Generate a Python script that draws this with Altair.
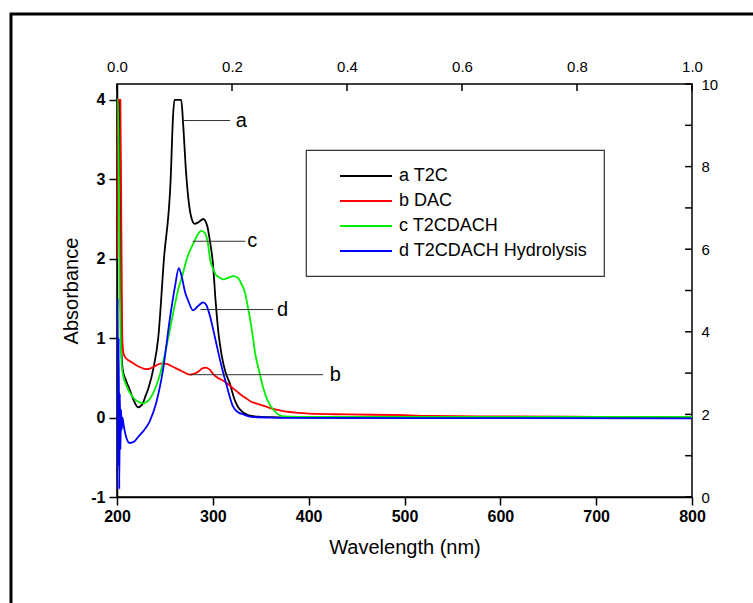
import altair as alt
import pandas as pd

# ---- data ----
series_names = ["a T2C", "b DAC", "c T2CDACH", "d T2CDACH Hydrolysis"]
series_colors = ["#000000", "#ff0000", "#00ee00", "#0000ff"]

wl_a = [200, 201, 202.5, 203.5, 204.5, 206, 209, 213, 218, 222, 226, 230, 233, 238, 243, 249, 256, 258.5, 260,
        264, 267, 269, 272, 275, 278, 281, 285, 290, 294, 297, 300, 303, 306, 309, 313, 318, 322, 326, 330,
        335, 340, 350, 360, 380, 400, 500, 600, 700, 800]
abs_a = [1.5, 4.0, 4.0, 2.0, 0.9, 0.6, 0.48, 0.36, 0.2, 0.13, 0.16, 0.28, 0.38, 0.62, 1.0, 2.0, 3.0, 3.8, 4.0,
         4.0, 4.0, 3.7, 3.1, 2.7, 2.5, 2.44, 2.46, 2.5, 2.42, 2.22, 1.95, 1.45, 1.05, 0.8, 0.58, 0.42, 0.25, 0.14,
         0.08, 0.04, 0.02, 0.01, 0.005, 0.002, 0.0, 0.0, 0.0, 0.0, 0.0]

wl_b = [200, 201, 203.5, 204.5, 205.5, 207, 210, 215, 220, 225, 230, 235, 240, 245, 250, 255, 260, 265, 270,
        276, 280, 285, 289, 293, 297, 301, 305, 310, 315, 320, 325, 330, 335, 340, 345, 350, 360, 370, 380,
        390, 400, 440, 500, 530, 600, 700, 800]
abs_b = [2.0, 4.0, 4.0, 2.5, 1.0, 0.8, 0.74, 0.7, 0.66, 0.63, 0.61, 0.62, 0.65, 0.68, 0.68, 0.66, 0.63, 0.6,
         0.57, 0.54, 0.55, 0.58, 0.62, 0.63, 0.6, 0.54, 0.5, 0.47, 0.43, 0.38, 0.33, 0.28, 0.24, 0.2, 0.18,
         0.16, 0.12, 0.09, 0.07, 0.06, 0.05, 0.04, 0.03, 0.02, 0.015, 0.01, 0.01]

wl_c = [200, 201, 202, 203, 205, 207, 210, 213, 217, 222, 227.5, 234, 241, 245, 250, 255, 260, 264, 268,
        272.7, 276, 280, 284, 288, 292, 295, 297, 300, 303, 307.5, 311, 316, 321, 326, 330, 333.6, 336, 339,
        342, 344, 347, 349, 352, 355, 360, 367, 374, 390, 500, 600, 700, 800]
abs_c = [4.0, 4.0, 3.0, 1.6, 0.65, 0.5, 0.4, 0.32, 0.25, 0.2, 0.18, 0.23, 0.4, 0.55, 0.8, 1.1, 1.4, 1.62,
         1.78, 1.99, 2.1, 2.2, 2.3, 2.35, 2.32, 2.18, 2.0, 1.88, 1.8, 1.76, 1.74, 1.76, 1.78, 1.76, 1.68,
         1.57, 1.43, 1.23, 1.0, 0.82, 0.65, 0.55, 0.4, 0.28, 0.15, 0.05, 0.015, 0.01, 0.01, 0.01, 0.01, 0.01]

wl_d = [200, 200.6, 201.2, 201.8, 202.4, 203, 203.6, 204.2, 205, 205.7, 207, 209, 213, 218, 223, 227.5, 234,
        241, 248, 255, 260.5, 264.5, 268, 271, 274, 279.5, 285, 290, 293, 297, 302, 309, 314.5, 321, 326,
        332, 340, 360, 400, 600, 800]
abs_d = [-0.9, 1.5, -0.6, 1.0, -0.9, 0.3, -0.4, 0.1, -0.15, 0.0, -0.1, -0.22, -0.32, -0.3, -0.23, -0.17,
         -0.05, 0.19, 0.6, 1.23, 1.65, 1.88, 1.75, 1.58, 1.48, 1.35, 1.41, 1.45, 1.42, 1.28, 1.02, 0.65, 0.4,
         0.14, 0.07, 0.04, 0.01, 0.0, -0.005, -0.008, -0.01]

# annotation leader lines
ann_labels = ["a", "c", "d", "b"]
ann_x1 = [269, 279, 287, 276]
ann_x2 = [318, 334, 363, 415]
ann_y = [3.74, 2.22, 1.36, 0.54]
ann_text_x = [324, 336, 367, 422]

bottom_ticks = [200, 300, 400, 500, 600, 700, 800]
left_ticks = [-1, 0, 1, 2, 3, 4]
top_ticks = [0.0, 0.2, 0.4, 0.6, 0.8, 1.0]
right_ticks = list(range(0, 11))

# ---- build tables ----
rows = []
for name, wls, vals in zip(series_names, [wl_a, wl_b, wl_c, wl_d], [abs_a, abs_b, abs_c, abs_d]):
    for w, v in zip(wls, vals):
        rows.append({"series": name, "wl": w, "A": v})
df = pd.DataFrame(rows)
ann = pd.DataFrame({"label": ann_labels, "x1": ann_x1, "x2": ann_x2, "y": ann_y, "tx": ann_text_x})

FONT = "Liberation Sans"
W, H = 575, 413

xscale = alt.Scale(domain=[200, 800], nice=False, zero=False)
yscale = alt.Scale(domain=[-1, 4.2], nice=False, zero=False)

x_axis = alt.Axis(orient="bottom", values=bottom_ticks, labelExpr="'' + datum.value", tickSize=8,
                  tickWidth=1.5, tickColor="black", domainColor="black", domainWidth=1.5, labelFont=FONT,
                  labelFontWeight="bold", labelFontSize=16, labelColor="black", labelPadding=3,
                  title="Wavelength (nm)", titleFont=FONT, titleFontSize=20, titleFontWeight="normal",
                  titleColor="black", titlePadding=13, grid=False, labelFlush=False)
y_axis = alt.Axis(orient="left", values=left_ticks, labelExpr="'' + datum.value", tickSize=8,
                  tickWidth=1.5, tickColor="black", domainColor="black", domainWidth=1.5, labelFont=FONT,
                  labelFontWeight="bold", labelFontSize=16, labelColor="black", labelPadding=4,
                  title="Absorbance", titleFont=FONT, titleFontSize=20, titleFontWeight="normal",
                  titleColor="black", titlePadding=9, grid=False, labelFlush=False)

lines = alt.Chart(df).mark_line(strokeWidth=1.8, interpolate="monotone", clip=True).encode(
    x=alt.X("wl:Q", scale=xscale, axis=x_axis),
    y=alt.Y("A:Q", scale=yscale, axis=y_axis),
    color=alt.Color("series:N",
                    scale=alt.Scale(domain=series_names, range=series_colors),
                    legend=alt.Legend(title=None, orient="none", legendX=189, legendY=66,
                                      symbolType="M-3,0H3", symbolSize=300, symbolStrokeWidth=2,
                                      labelFont=FONT, labelFontSize=18, labelColor="black",
                                      rowPadding=6, padding=16, symbolOffset=34, labelOffset=23,
                                      strokeColor="#333333", fillColor="white", labelLimit=400)),
    order=alt.Order("wl:Q"),
)

leaders = alt.Chart(ann).mark_rule(color="#333333", strokeWidth=1).encode(
    x=alt.X("x1:Q", scale=xscale, axis=x_axis),
    x2="x2:Q",
    y=alt.Y("y:Q", scale=yscale, axis=y_axis),
)
leader_text = alt.Chart(ann).mark_text(align="left", baseline="middle", font=FONT, fontSize=20,
                                       color="black").encode(
    x=alt.X("tx:Q", scale=xscale, axis=x_axis),
    y=alt.Y("y:Q", scale=yscale, axis=y_axis),
    text="label:N",
)

frame = alt.Chart(pd.DataFrame({"k": [0]})).mark_rect(fill=None, stroke="black", strokeWidth=3).encode(
    x=alt.value(-106), x2=alt.value(W + 200), y=alt.value(-70), y2=alt.value(H + 200)
)

main = alt.layer(frame, lines, leaders, leader_text)

# secondary (top / right) axes, ticks drawn inward
tscale = alt.Scale(domain=[0, 1], nice=False, zero=False)
rscale = alt.Scale(domain=[0, 10], nice=False, zero=False)

top_axis = alt.Axis(orient="top", values=top_ticks, format=".1f", ticks=False, domain=False,
                    labelFont=FONT, labelFontSize=15, labelColor="black", labelPadding=10,
                    title=None, grid=False, labelFlush=False)
right_axis = alt.Axis(orient="right", values=right_ticks, ticks=False, domain=False,
                      labelExpr="datum.value % 2 == 0 ? datum.label : ''",
                      labelFont=FONT, labelFontSize=15, labelColor="black", labelPadding=9,
                      title=None, grid=False, labelFlush=False)

top_df = pd.DataFrame({"t": top_ticks})
right_df = pd.DataFrame({"r": right_ticks})

top_tick_marks = alt.Chart(top_df).mark_rule(color="black", strokeWidth=1.5).encode(
    x=alt.X("t:Q", scale=tscale, axis=top_axis),
    y=alt.YDatum(10, scale=rscale, axis=right_axis),
    y2=alt.datum(9.83),
)
right_tick_marks = alt.Chart(right_df).mark_rule(color="black", strokeWidth=1.5).encode(
    y=alt.Y("r:Q", scale=rscale, axis=right_axis),
    x=alt.XDatum(1.0, scale=tscale, axis=top_axis),
    x2=alt.datum(0.988),
)
secondary = alt.layer(top_tick_marks, right_tick_marks)

chart = alt.layer(main, secondary).resolve_scale(x="independent", y="independent").properties(
    width=W, height=H,
    padding={"left": 117, "top": 84, "right": 61, "bottom": 106},
    autosize=alt.AutoSizeParams(type="none"),
).configure_view(stroke="black", strokeWidth=1.5).configure_legend(strokeWidth=1.2)

chart.save("out.html", embed_options={"renderer": "svg", "actions": False})
